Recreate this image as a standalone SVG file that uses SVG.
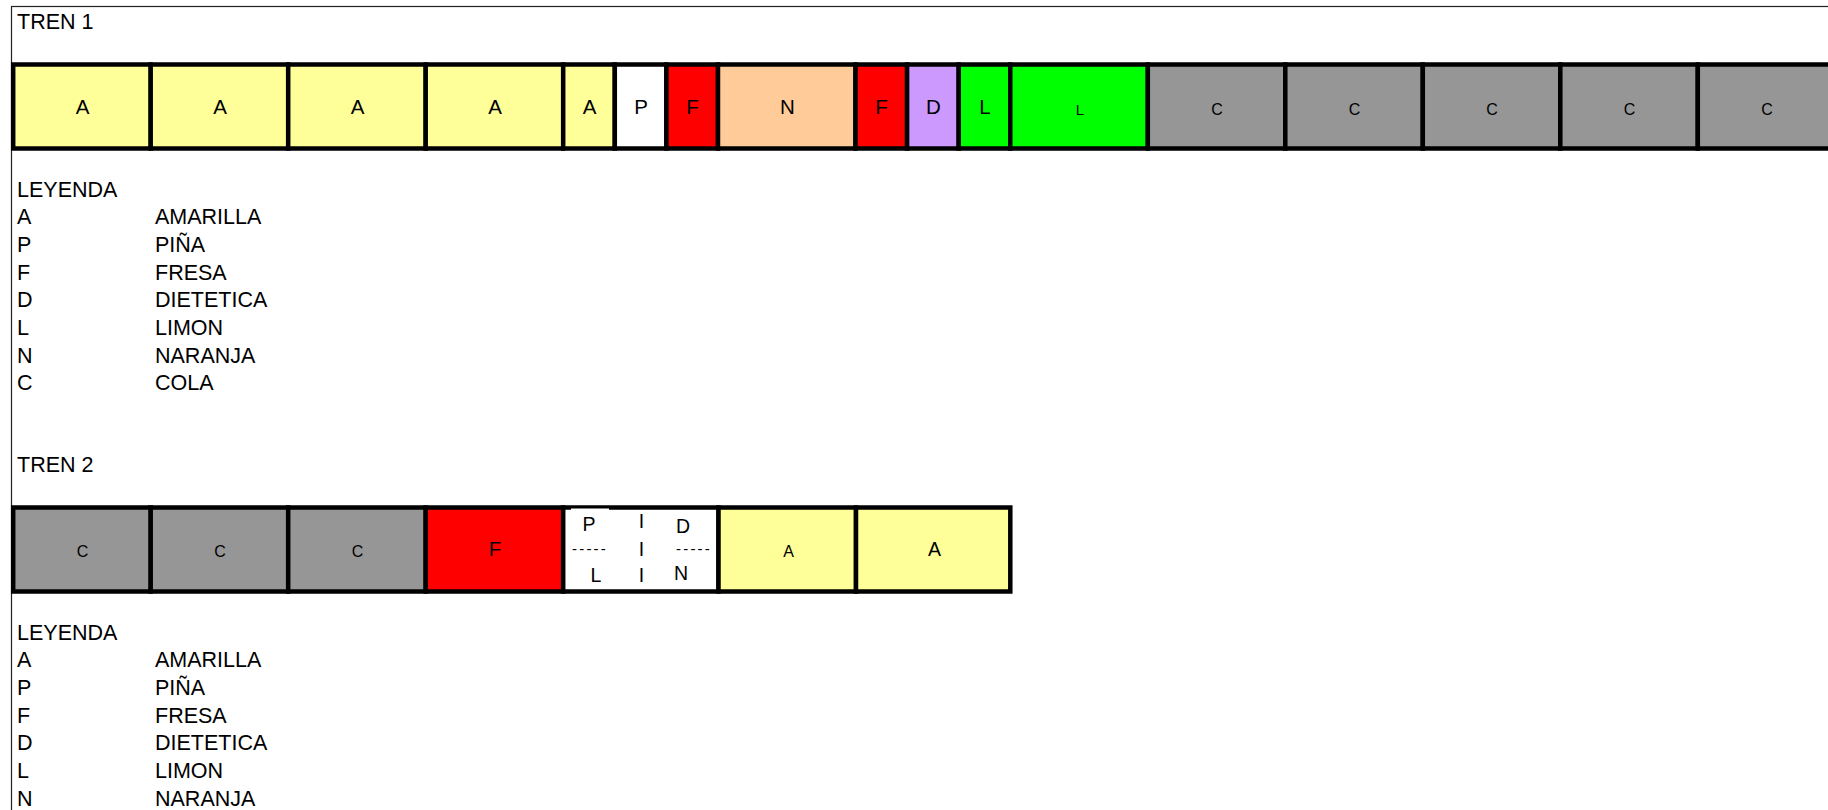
<svg xmlns="http://www.w3.org/2000/svg" width="1828" height="810" viewBox="0 0 1828 810">
<style>
text{font-family:"Liberation Sans",Arial,sans-serif;fill:#000}
.lbl{font-size:21.5px}
.big{font-size:20.5px;text-anchor:middle}
.sm{font-size:16px;text-anchor:middle}
.xs{font-size:15px;text-anchor:middle}
.md{font-size:19.5px;text-anchor:middle}
.dash{font-size:15px;letter-spacing:2.2px}
.cell{stroke:#000;stroke-width:4.5}
.y{fill:#FFFF99}.w{fill:#FFFFFF}.r{fill:#FF0000}.o{fill:#FFCC99}.p{fill:#CC99FF}.g{fill:#00FF00}.c{fill:#969696}
</style>
<rect x="0" y="0" width="1828" height="810" fill="#fff"/>
<rect x="11.5" y="6.5" width="2000" height="2000" fill="none" stroke="#222" stroke-width="1.2"/>
<text class="lbl" x="17" y="29">TREN 1</text>
<g id="tren1">
<g id="t1c1"><rect class="cell y" x="13.2" y="64.5" width="137.5" height="84"/><text class="big" x="82.5" y="113.5">A</text></g>
<g id="t1c2"><rect class="cell y" x="150.7" y="64.5" width="137.5" height="84"/><text class="big" x="220" y="113.5">A</text></g>
<g id="t1c3"><rect class="cell y" x="288.2" y="64.5" width="137.5" height="84"/><text class="big" x="357.5" y="113.5">A</text></g>
<g id="t1c4"><rect class="cell y" x="425.7" y="64.5" width="137.5" height="84"/><text class="big" x="495" y="113.5">A</text></g>
<g id="t1c5"><rect class="cell y" x="563.2" y="64.5" width="51.6" height="84"/><text class="big" x="589.5" y="113.5">A</text></g>
<g id="t1c6"><rect class="cell w" x="614.8" y="64.5" width="51.6" height="84"/><text class="big" x="641" y="113.5">P</text></g>
<g id="t1c7"><rect class="cell r" x="666.4" y="64.5" width="51.6" height="84"/><text class="big" x="692.5" y="113.5">F</text></g>
<g id="t1c8"><rect class="cell o" x="718" y="64.5" width="137.5" height="84"/><text class="big" x="787.5" y="113.5">N</text></g>
<g id="t1c9"><rect class="cell r" x="855.5" y="64.5" width="51.6" height="84"/><text class="big" x="881.5" y="113.5">F</text></g>
<g id="t1c10"><rect class="cell p" x="907.1" y="64.5" width="51.6" height="84"/><text class="big" x="933.5" y="113.5">D</text></g>
<g id="t1c11"><rect class="cell g" x="958.7" y="64.5" width="51.6" height="84"/><text class="big" x="985" y="113.5">L</text></g>
<g id="t1c12"><rect class="cell g" x="1010.3" y="64.5" width="137.5" height="84"/><text class="xs" x="1080" y="114.5">L</text></g>
<g id="t1c13"><rect class="cell c" x="1147.8" y="64.5" width="137.5" height="84"/><text class="sm" x="1217" y="114.5">C</text></g>
<g id="t1c14"><rect class="cell c" x="1285.3" y="64.5" width="137.5" height="84"/><text class="sm" x="1354.5" y="114.5">C</text></g>
<g id="t1c15"><rect class="cell c" x="1422.8" y="64.5" width="137.5" height="84"/><text class="sm" x="1492" y="114.5">C</text></g>
<g id="t1c16"><rect class="cell c" x="1560.3" y="64.5" width="137.5" height="84"/><text class="sm" x="1629.5" y="114.5">C</text></g>
<g id="t1c17"><rect class="cell c" x="1697.8" y="64.5" width="137.5" height="84"/><text class="sm" x="1767" y="114.5">C</text></g>
</g>
<g id="leyenda1">
<text class="lbl" x="17" y="196.5">LEYENDA</text>
<text class="lbl" x="17" y="224.2">A</text><text class="lbl" x="155" y="224.2">AMARILLA</text>
<text class="lbl" x="17" y="251.9">P</text><text class="lbl" x="155" y="251.9">PIÑA</text>
<text class="lbl" x="17" y="279.6">F</text><text class="lbl" x="155" y="279.6">FRESA</text>
<text class="lbl" x="17" y="307.3">D</text><text class="lbl" x="155" y="307.3">DIETETICA</text>
<text class="lbl" x="17" y="335">L</text><text class="lbl" x="155" y="335">LIMON</text>
<text class="lbl" x="17" y="362.7">N</text><text class="lbl" x="155" y="362.7">NARANJA</text>
<text class="lbl" x="17" y="390.4">C</text><text class="lbl" x="155" y="390.4">COLA</text>
</g>
<text class="lbl" x="17" y="471.5">TREN 2</text>
<g id="tren2">
<g id="t2c1"><rect class="cell c" x="13.2" y="507.5" width="137.5" height="84"/><text class="sm" x="82.5" y="557">C</text></g>
<g id="t2c2"><rect class="cell c" x="150.7" y="507.5" width="137.5" height="84"/><text class="sm" x="220" y="557">C</text></g>
<g id="t2c3"><rect class="cell c" x="288.2" y="507.5" width="137.5" height="84"/><text class="sm" x="357.5" y="557">C</text></g>
<g id="t2c4"><rect class="cell r" x="425.7" y="507.5" width="137.5" height="84"/><text class="big" x="495" y="556">F</text></g>
<g id="t2c5"><rect class="cell w" x="563.2" y="507.5" width="155.3" height="84"/>
<rect x="571" y="508.5" width="38" height="2.5" fill="#fff"/>
<text class="md" x="589" y="531">P</text>
<text class="dash" x="572" y="553.5">-----</text>
<text class="md" x="596" y="582">L</text>
<text class="md" x="641.5" y="528">I</text>
<text class="md" x="641.5" y="556">I</text>
<text class="md" x="641.5" y="582">I</text>
<text class="md" x="683" y="533">D</text>
<text class="dash" x="676" y="553.5">-----</text>
<text class="md" x="681" y="580">N</text>
</g>
<g id="t2c6"><rect class="cell y" x="718.5" y="507.5" width="137.5" height="84"/><text class="sm" x="788.5" y="557">A</text></g>
<g id="t2c7"><rect class="cell y" x="856" y="507.5" width="154.3" height="84"/><text class="md" x="934.5" y="556">A</text></g>
</g>
<g id="leyenda2">
<text class="lbl" x="17" y="639.5">LEYENDA</text>
<text class="lbl" x="17" y="667.2">A</text><text class="lbl" x="155" y="667.2">AMARILLA</text>
<text class="lbl" x="17" y="694.9">P</text><text class="lbl" x="155" y="694.9">PIÑA</text>
<text class="lbl" x="17" y="722.6">F</text><text class="lbl" x="155" y="722.6">FRESA</text>
<text class="lbl" x="17" y="750.3">D</text><text class="lbl" x="155" y="750.3">DIETETICA</text>
<text class="lbl" x="17" y="778">L</text><text class="lbl" x="155" y="778">LIMON</text>
<text class="lbl" x="17" y="805.7">N</text><text class="lbl" x="155" y="805.7">NARANJA</text>
</g>
</svg>
